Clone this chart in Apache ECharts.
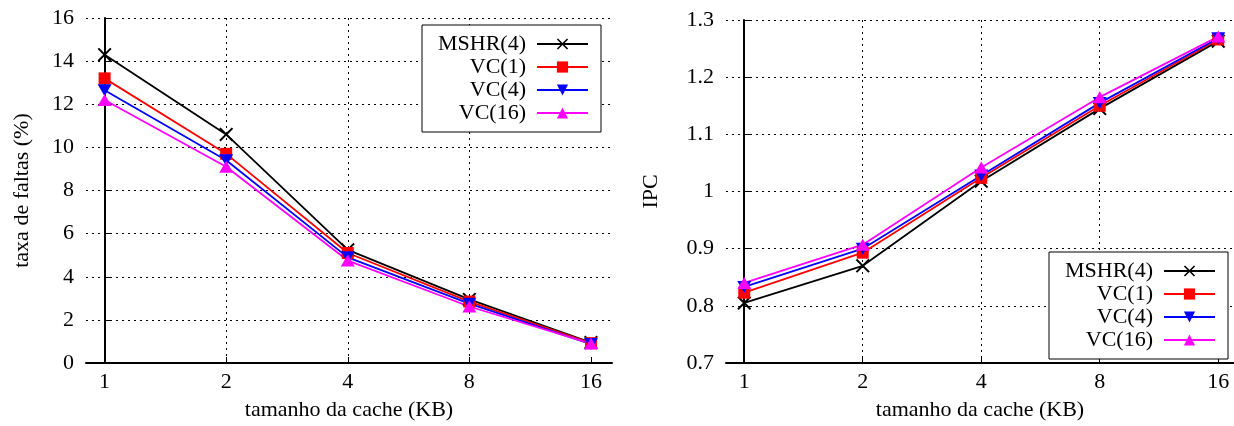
<!DOCTYPE html>
<html>
<head>
<meta charset="utf-8">
<script src="https://cdn.jsdelivr.net/npm/echarts@6/dist/echarts.min.js"></script>
<style>
  html, body { margin: 0; padding: 0; background: #fff; }
  #chart { width: 1234px; height: 426px; }
</style>
</head>
<body>
<div id="chart"></div>
<script>
// tamanhos da cache (KB)
const sizes = ['1', '2', '4', '8', '16'];

// taxa de faltas (%)
const missMSHR4 = [14.3, 10.6, 5.25, 2.95, 0.95];
const missVC1 = [13.2, 9.7, 5.1, 2.85, 0.92];
const missVC4 = [12.65, 9.4, 4.9, 2.75, 0.88];
const missVC16 = [12.2, 9.1, 4.75, 2.62, 0.9];

// IPC
const ipcMSHR4 = [0.805, 0.87, 1.018, 1.145, 1.263];
const ipcVC1 = [0.823, 0.893, 1.024, 1.15, 1.266];
const ipcVC4 = [0.833, 0.9, 1.028, 1.155, 1.268];
const ipcVC16 = [0.84, 0.907, 1.042, 1.165, 1.271];

const names = ['MSHR(4)', 'VC(1)', 'VC(4)', 'VC(16)'];

const font = 'Liberation Serif';
const crossPath = 'path://M0,1L1,0L5,4L9,0L10,1L6,5L10,9L9,10L5,6L1,10L0,9L4,5Z';

const styles = [
  { color: '#000000', symbol: crossPath, symbolSize: 14, symbolRotate: 0 },
  { color: '#ff0000', symbol: 'rect', symbolSize: 12, symbolRotate: 0 },
  { color: '#0000ff', symbol: 'triangle', symbolSize: [14, 12], symbolRotate: 180 },
  { color: '#ff00ff', symbol: 'triangle', symbolSize: [14, 12], symbolRotate: 0 }
];

function toPoints(vals) {
  return vals.map((v, i) => [i, v]);
}

function makeSeries(name, vals, idx, s) {
  return {
    name: name,
    type: 'line',
    xAxisIndex: idx,
    yAxisIndex: idx,
    data: toPoints(vals),
    symbol: s.symbol,
    symbolSize: s.symbolSize,
    symbolRotate: s.symbolRotate,
    showAllSymbol: true,
    lineStyle: { color: s.color, width: 1.8 },
    itemStyle: { color: s.color },
    animation: false
  };
}

function xAxisOpt(idx, min, max) {
  return {
    type: 'value',
    gridIndex: idx,
    min: min,
    max: max,
    name: 'tamanho da cache (KB)',
    nameLocation: 'middle',
    nameGap: 36,
    nameTextStyle: { fontFamily: font, fontSize: 22, color: '#000' },
    axisLine: { show: true, lineStyle: { color: '#000', width: 2 } },
    axisTick: { show: true, inside: true, length: 6, customValues: [0, 1, 2, 3, 4], lineStyle: { color: '#000', width: 1 } },
    axisLabel: {
      customValues: [0, 1, 2, 3, 4],
      margin: 8,
      fontFamily: font, fontSize: 22, color: '#000',
      formatter: function (v) { return sizes[Math.round(v)] || ''; }
    },
    splitLine: { show: true, showMinLine: false, showMaxLine: false, lineStyle: { color: '#000', type: [2, 4], width: 1 } }
  };
}

function yAxisOpt(idx, name, min, max, interval, gap) {
  return {
    type: 'value',
    gridIndex: idx,
    min: min,
    max: max,
    interval: interval,
    name: name,
    nameLocation: 'middle',
    nameGap: gap,
    nameTextStyle: { fontFamily: font, fontSize: 22, color: '#000' },
    axisLine: { show: true, lineStyle: { color: '#000', width: 2 } },
    axisTick: { show: true, inside: true, length: 6, lineStyle: { color: '#000', width: 1 } },
    axisLabel: { margin: 12, fontFamily: font, fontSize: 22, color: '#000' },
    splitLine: { show: true, showMinLine: false, lineStyle: { color: '#000', type: [2, 4], width: 1 } }
  };
}

function legendOpt(pos) {
  return Object.assign({
    orient: 'vertical',
    align: 'right',
    data: names,
    itemWidth: 51,
    itemHeight: 14,
    itemGap: 1,
    padding: [8, 12, 8, 13],
    borderColor: '#000',
    borderWidth: 1,
    backgroundColor: '#fff',
    selectedMode: false,
    textStyle: { fontFamily: font, fontSize: 22, color: '#000', width: 91, align: 'right', padding: [0, 6, 0, 0], lineHeight: 22 }
  }, pos);
}

const missData = [missMSHR4, missVC1, missVC4, missVC16];
const ipcData = [ipcMSHR4, ipcVC1, ipcVC4, ipcVC16];

const series = [];
names.forEach((n, i) => series.push(makeSeries(n, missData[i], 0, styles[i])));
names.forEach((n, i) => series.push(makeSeries(n, ipcData[i], 1, styles[i])));

const chart = echarts.init(document.getElementById('chart'));
chart.setOption({
  backgroundColor: '#fff',
  animation: false,
  grid: [
    { left: 86, right: 622, top: 18, bottom: 60 },
    { left: 726, right: 0, top: 20, bottom: 60 }
  ],
  xAxis: [xAxisOpt(0, -0.153, 4.173), xAxisOpt(1, -0.154, 4.133)],
  yAxis: [
    yAxisOpt(0, 'taxa de faltas (%)', 0, 16, 2, 53),
    yAxisOpt(1, 'IPC', 0.7, 1.3, 0.1, 64)
  ],
  legend: [
    legendOpt({ right: 633, top: 25 }),
    legendOpt({ right: 6, bottom: 67 })
  ],
  series: series
});
</script>
</body>
</html>
